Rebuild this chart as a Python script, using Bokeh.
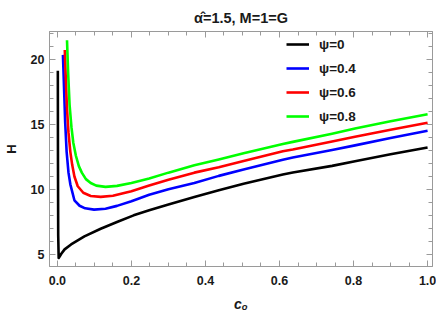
from bokeh.plotting import figure
from bokeh.models import (Range1d, LinearAxis, Legend, LegendItem, Title,
                          SingleIntervalTicker, PrintfTickFormatter,
                          CustomJSTickFormatter)
from bokeh.embed import file_html
from bokeh.resources import INLINE

# ---- data ----
c_psi0 = [0.0012, 0.0016, 0.0022, 0.0035, 0.0065, 0.0106, 0.0195, 0.037, 0.073,
          0.117, 0.161, 0.206, 0.248, 0.3, 0.37, 0.436, 0.503, 0.609, 0.636,
          0.742, 0.804, 0.9, 1.0]
H_psi0 = [19.15, 12.0, 6.5, 4.72, 4.85, 5.05, 5.39, 5.77, 6.39,
          6.98, 7.50, 8.01, 8.40, 8.85, 9.43, 9.94, 10.45, 11.15, 11.31,
          11.82, 12.18, 12.72, 13.24]

c_psi04 = [0.015, 0.018, 0.021, 0.025, 0.03, 0.035, 0.046, 0.06, 0.075, 0.099,
           0.13, 0.161, 0.2, 0.248, 0.3, 0.37, 0.436, 0.503, 0.609, 0.636,
           0.742, 0.804, 0.9, 1.0]
H_psi04 = [20.37, 17.8, 15.2, 12.9, 11.3, 10.4, 9.17, 8.75, 8.55, 8.45,
           8.52, 8.74, 9.1, 9.6, 10.02, 10.5, 11.05, 11.55, 12.3, 12.47,
           13.05, 13.4, 13.97, 14.52]

c_psi06 = [0.020, 0.023, 0.026, 0.03, 0.035, 0.04, 0.046, 0.055, 0.07, 0.09,
           0.117, 0.15, 0.2, 0.248, 0.3, 0.37, 0.436, 0.503, 0.609, 0.636,
           0.742, 0.804, 0.9, 1.0]
H_psi06 = [20.75, 18.3, 16.2, 14.4, 12.9, 11.9, 11.0, 10.25, 9.75, 9.5,
           9.43, 9.52, 9.87, 10.3, 10.75, 11.3, 11.72, 12.2, 12.95, 13.08,
           13.7, 14.06, 14.6, 15.14]

c_psi08 = [0.026, 0.029, 0.033, 0.038, 0.043, 0.05, 0.058, 0.066, 0.077, 0.09,
           0.105, 0.13, 0.161, 0.2, 0.248, 0.3, 0.37, 0.436, 0.503, 0.609,
           0.636, 0.742, 0.804, 0.9, 1.0]
H_psi08 = [21.5, 19.0, 16.5, 14.8, 13.6, 12.6, 11.8, 11.3, 10.8, 10.5,
           10.3, 10.2, 10.28, 10.5, 10.84, 11.3, 11.87, 12.31, 12.8, 13.5,
           13.67, 14.3, 14.7, 15.25, 15.79]

series_labels = ["ψ=0", "ψ=0.4", "ψ=0.6", "ψ=0.8"]
series_colors = ["#000000", "#0000FF", "#FF0000", "#00FF00"]
title_text = "α\u0302=1.5, M=1=G"
x_label = "c\u2092"
y_label = "H"

FONT = "Liberation Sans"
AX = "#9a9a9a"
TXT = "#1a1a1a"

p = figure(width=436, height=319, output_backend="svg", toolbar_location=None,
           title=None,
           x_range=Range1d(-0.0213, 1.0133), y_range=Range1d(4.07, 22.17),
           min_border_left=43, min_border_right=4, min_border_top=31,
           min_border_bottom=53, background_fill_color="white",
           border_fill_color="white")
p.xgrid.visible = False
p.ygrid.visible = False
p.outline_line_color = AX


def style_axis(ax, show_labels):
    ax.axis_line_color = AX
    ax.major_tick_line_color = AX
    ax.minor_tick_line_color = AX
    ax.major_tick_in = 6
    ax.major_tick_out = 0
    ax.minor_tick_in = 4
    ax.minor_tick_out = 0
    ax.major_label_text_font = FONT
    ax.major_label_text_font_style = "bold"
    ax.major_label_text_font_size = "12.5px"
    ax.major_label_text_color = TXT
    ax.axis_label_text_font = FONT
    ax.axis_label_text_color = TXT
    if not show_labels:
        ax.formatter = CustomJSTickFormatter(code="return ''")
        ax.major_label_standoff = 0


p.xaxis.ticker = SingleIntervalTicker(interval=0.2, num_minor_ticks=4)
p.yaxis.ticker = SingleIntervalTicker(interval=5, num_minor_ticks=5)
style_axis(p.xaxis[0], True)
style_axis(p.yaxis[0], True)
p.xaxis.formatter = PrintfTickFormatter(format="%.1f")
p.xaxis.major_label_standoff = 9
p.yaxis.major_label_standoff = 5

p.xaxis.axis_label = x_label
p.xaxis.axis_label_text_font_style = "bold italic"
p.xaxis.axis_label_text_font_size = "14px"
p.xaxis.axis_label_standoff = 8
p.yaxis.axis_label = y_label
p.yaxis.axis_label_text_font_style = "bold"
p.yaxis.axis_label_text_font_size = "13px"
p.yaxis.axis_label_standoff = 9

top_ax = LinearAxis(ticker=SingleIntervalTicker(interval=0.2, num_minor_ticks=4))
style_axis(top_ax, False)
p.add_layout(top_ax, "above")
right_ax = LinearAxis(ticker=SingleIntervalTicker(interval=5, num_minor_ticks=5))
style_axis(right_ax, False)
p.add_layout(right_ax, "right")

p.add_layout(Title(text=title_text, align="center", text_font=FONT,
                   text_font_style="bold", text_font_size="14.5px",
                   text_color=TXT, standoff=11), "above")

data = [(c_psi0, H_psi0), (c_psi04, H_psi04), (c_psi06, H_psi06), (c_psi08, H_psi08)]
items = []
for (cx, hy), lab, col in zip(data, series_labels, series_colors):
    r = p.line(cx, hy, line_color=col, line_width=2.6, line_join="round")
    items.append(LegendItem(label=lab, renderers=[r]))

legend = Legend(items=items, location=(237, 140), orientation="vertical",
                glyph_width=23, glyph_height=20, label_height=20, spacing=4,
                label_standoff=10, padding=0, margin=0,
                border_line_color=None, background_fill_alpha=0,
                label_text_font=FONT, label_text_font_style="bold",
                label_text_font_size="13.5px", label_text_color=TXT)
p.add_layout(legend, "center")

open("out.html", "w").write(file_html(p, INLINE))
